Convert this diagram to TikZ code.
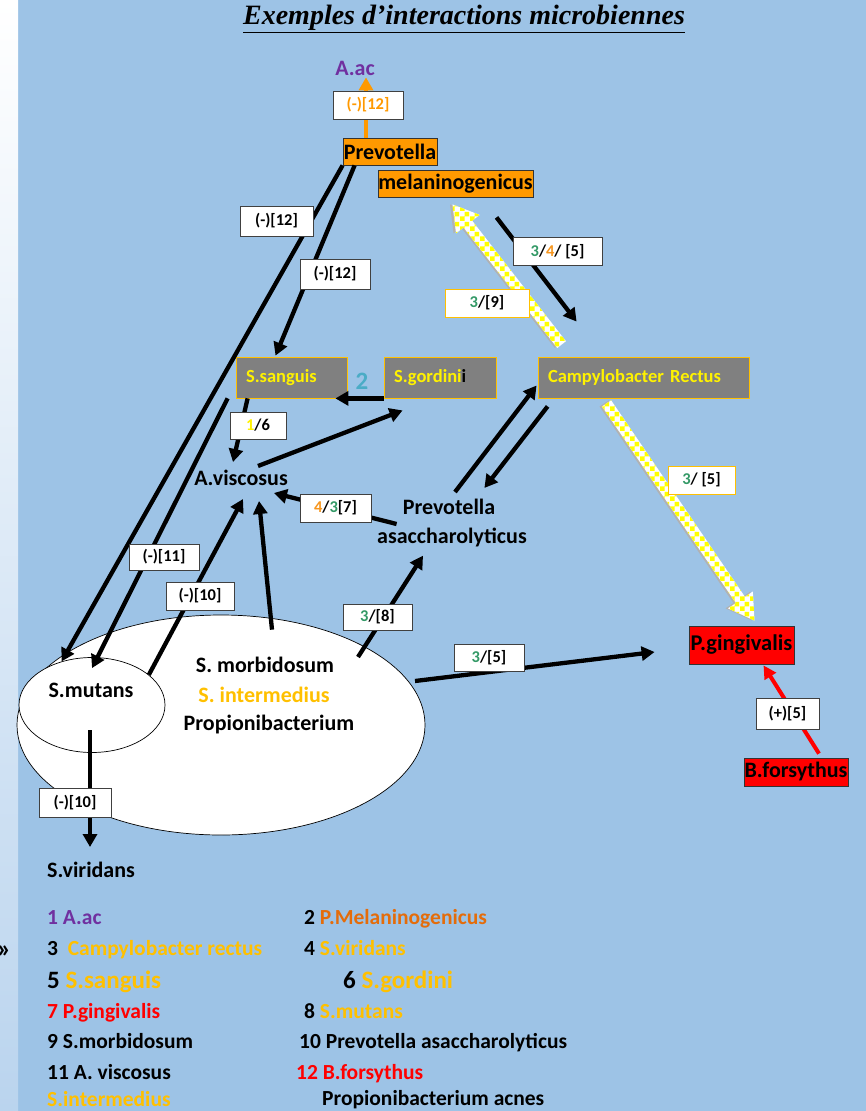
\documentclass[tikz,border=0pt]{standalone}
\usepackage{fontspec}
\setmainfont{Carlito}
\newfontfamily\titlefont{Liberation Serif}
\usetikzlibrary{arrows.meta,calc,shapes.geometric,patterns}

\definecolor{bgblue}{RGB}{157,195,230}
\definecolor{stripblue}{RGB}{186,212,238}
\definecolor{boxorange}{RGB}{255,153,0}
\definecolor{boxgray}{RGB}{128,128,128}
\definecolor{goldline}{RGB}{255,192,0}
\definecolor{numgreen}{RGB}{51,153,102}
\definecolor{numorange}{RGB}{247,150,30}
\definecolor{tealtwo}{RGB}{75,172,198}
\definecolor{aacpurple}{RGB}{112,48,160}
\definecolor{melorange}{RGB}{228,108,10}

% yellow / white checker for the fat arrows
\pgfdeclarepatternformonly{chkboard}{\pgfpointorigin}{\pgfqpoint{10pt}{10pt}}{\pgfqpoint{10pt}{10pt}}{%
  \pgfpathrectangle{\pgfpointorigin}{\pgfqpoint{5pt}{5pt}}%
  \pgfpathrectangle{\pgfqpoint{5pt}{5pt}}{\pgfqpoint{5pt}{5pt}}%
  \pgfusepath{fill}}

\newcommand{\chkarrow}[2]{%
  \coordinate (chk-h) at ($(#2)!25pt!(#1)$);
  \path[chkfill] ($(#1)!5.5pt!90:(#2)$) -- ($(chk-h)!5.5pt!90:(#2)$) -- ($(chk-h)!15pt!90:(#2)$) -- (#2)
    -- ($(chk-h)!15pt!-90:(#2)$) -- ($(chk-h)!5.5pt!-90:(#2)$) -- ($(#1)!5.5pt!-90:(#2)$) -- cycle;
}

\begin{document}
\begin{tikzpicture}[x=1pt,y=-1pt,
          every node/.style={font=\bfseries\fontsize{22}{25}\selectfont, inner sep=1pt},
          orgbox/.style={draw=black!80, fill=boxorange, line width=.8pt, minimum height=27pt, inner sep=0pt},
          graybox/.style={draw=goldline, fill=boxgray, line width=.8pt, text=yellow, minimum height=41pt,
                          align=left, inner xsep=10pt, inner ysep=0pt, font=\bfseries\fontsize{18.5}{21}\selectfont},
          redbox/.style={draw=black!80, fill=red, line width=.8pt, inner sep=0pt},
          lab/.style={draw=black!75, fill=white, line width=.8pt, minimum height=28pt, inner sep=0pt,
                      font=\bfseries\fontsize{16.5}{19}\selectfont},
          ylab/.style={lab, draw=goldline},
          blob/.style={draw, ellipse, fill=white, line width=.7pt, inner sep=0pt},
          leg/.style={anchor=base west, inner sep=0pt, font=\bfseries\fontsize{21.5}{24}\selectfont},
          legbig/.style={leg, font=\bfseries\fontsize{25}{28}\selectfont},
          arr/.style={line width=4.3pt, -{Triangle[width=14pt,length=13pt]}},
          orgarr/.style={boxorange, line width=4pt, -{Triangle[width=14pt,length=13pt]}},
          redarr/.style={red, line width=4pt, -{Triangle[width=13pt,length=13pt]}},
          chkfill/.style={fill=white, preaction={fill=black!30, transform canvas={shift={(-2.5pt,0pt)}}},
                          postaction={pattern=chkboard, pattern color=yellow}}]

  \useasboundingbox (0,0) rectangle (866,1111);
  \fill[bgblue] (18,0) rectangle (866,1111);
  \shade[top color=white, bottom color=stripblue] (0,0) rectangle (18,1111);

  \node[font=\titlefont\bfseries\itshape\fontsize{28}{31}\selectfont] (title) at (464,19)
    {\underline{Exemples d’interactions microbiennes}};

  % species
  \node[text=aacpurple] (aac) at (355,68) {A.ac};
  \node[orgbox, minimum width=94pt] (prevm1) at (390,151.5) {Prevotella};
  \node[orgbox, minimum width=155pt] (prevm2) at (455.5,183.5) {melaninogenicus};
  \node[graybox, text width=91pt] (sang) at (291.5,377.5) {S.sanguis};
  \node[graybox, text width=92pt] (gord) at (440,377.5) {S.gordini\textcolor{black}{i}};
  \node[graybox, text width=191pt] (campy) at (643.5,377.5) {Campylobacter Rectus};
  \node[text=tealtwo, font=\bfseries\fontsize{25}{27}\selectfont] (two) at (362,381) {2};
  \node (avisc) at (241,478) {A.viscosus};
  \node (pa1) at (449,507) {Prevotella};
  \node (pa2) at (452,537) {asaccharolyticus};
  \node[redbox, minimum width=105pt, minimum height=38pt, font=\bfseries\fontsize{22.5}{25}\selectfont] (pging) at (741.5,645) {P.gingivalis};
  \node[redbox, minimum width=104pt, minimum height=28pt] (bfors) at (796,772) {B.forsythus};

  \node[blob, minimum width=408pt, minimum height=220pt] (bigell) at (221,725) {};
  \node[blob, minimum width=146pt, minimum height=95pt] (smell) at (92,705) {};
  \node (smut) at (91,690) {S.mutans};
  \node (morb) at (265,665) {S. morbidosum};
  \node[text=goldline] (inter) at (264,695) {S. intermedius};
  \node (propi) at (269,725) {Propionibacterium};
  \node (svir) at (91,870) {S.viridans};

  % fat checkered arrows
  \coordinate (c1s) at ($(campy.south west)+(69,5)$);
  \coordinate (c1e) at ($(pging.north)+(13,-5)$);
  \coordinate (c2s) at ($(campy.north west)+(24,-12)$);
  \coordinate (c2e) at ($(prevm2.south)+(-3,7)$);
  \chkarrow{c1s}{c1e}
  \chkarrow{c2s}{c2e}

  % connectors
  \draw[orgarr] ($(prevm1.north)+(-24,0)$) -- ($(aac.south)+(11,1)$);
  \draw[arr] (prevm1.south west) -- (smell.125);
  \draw[arr] ($(prevm1.south west)+(12,0)$) -- ($(sang.north)+(-16,-1)$);
  \draw[arr] ($(sang.south west)+(-8,0)$) -- ($(smell.north)+(0,11)$);
  \draw[arr] (smell.28) -- ($(avisc.south)+(2,12)$);
  \draw[arr] ($(bigell.north)+(51,15)$) -- ($(avisc.south)+(18,14)$);
  \draw[arr] ($(sang.south west)+(12,0)$) -- ($(avisc.north)+(-8,-7)$);
  \draw[arr] (gord.south west) -- ($(sang.south east)+(-12,0)$);
  \draw[arr] ($(avisc.north)+(17,-3)$) -- ($(gord.south west)+(19,12)$);
  \draw[arr] ($(pa1.south west)+(-5,8)$) -- ($(avisc.east)+(-15,15)$);
  \draw[arr] ($(pa1.north)+(6,-6)$) -- ($(campy.west)+(-1,8)$);
  \draw[arr] ($(campy.south west)+(10,8)$) -- ($(pa1.north east)+(-12,-10)$);
  \draw[arr] ($(prevm2.south)+(41,20)$) -- ($(campy.north west)+(39,-35)$);
  \draw[arr] ($(bigell.center)+(137,-68)$) -- ($(pa2.south)+(-29,8)$);
  \draw[arr] ($(bigell.center)+(194,-44)$) -- ($(pging.west)+(-34,7)$);
  \draw[arr] ($(smell.center)+(-2,25)$) -- ($(svir.north)+(-1,-14)$);
  \draw[redarr] ($(bfors.north)+(23,-4)$) -- ($(pging.south)+(22,1)$);

  % labels
  \node[lab, minimum width=70pt, text=boxorange] (l1) at (368,105) {(-)[12]};
  \node[lab, minimum width=73pt, minimum height=30pt] (l2) at (276.5,221) {(-)[12]};
  \node[lab, minimum width=70pt, minimum height=30pt] (l3) at (335,274) {(-)[12]};
  \node[lab, minimum width=89pt] (l4) at (557.5,251.5) {\textcolor{numgreen}{3}/\textcolor{numorange}{4}/ [5]};
  \node[ylab, minimum width=84pt] (l5) at (487,303) {\textcolor{numgreen}{3}/[9]};
  \node[lab, minimum width=56pt, minimum height=27pt] (l6) at (258,425.5) {\textcolor{yellow}{1}/6};
  \node[lab, minimum width=71pt] (l7) at (335.5,508) {\textcolor{numorange}{4}/\textcolor{numgreen}{3}[7]};
  \node[ylab, minimum width=67pt] (l8) at (701.5,480) {\textcolor{numgreen}{3}/ [5]};
  \node[lab, minimum width=70pt, minimum height=26pt] (l9) at (164,557) {(-)[11]};
  \node[lab, minimum width=68pt] (l10) at (200,596) {(-)[10]};
  \node[lab, minimum width=69pt, minimum height=26pt] (l11) at (377.5,617) {\textcolor{numgreen}{3}/[8]};
  \node[lab, minimum width=70pt, minimum height=27pt] (l12) at (489,657.5) {\textcolor{numgreen}{3}/[5]};
  \node[lab, minimum width=63pt, minimum height=31pt] (l13) at (787.5,713.5) {(+)[5]};
  \node[lab, minimum width=72pt, minimum height=29pt] (l14) at (75,802.5) {(-)[10]};

  % key
  \node[leg, font=\bfseries\fontsize{26}{28}\selectfont] (mark) at (-3,957) {»};
  \node[leg, text=aacpurple] (k1) at (47,924) {1 A.ac};
  \node[leg] (k2) at (304,924) {2 \textcolor{melorange}{P.Melaninogenicus}};
  \node[leg] (k3) at (47,955) {3 \ \textcolor{goldline}{Campylobacter rectus}};
  \node[leg] (k4) at (304,955) {4 \textcolor{goldline}{S.viridans}};
  \node[legbig] (k5) at (47,988) {5 \textcolor{goldline}{S.sanguis}};
  \node[legbig] (k6) at (343,988) {6 \textcolor{goldline}{S.gordini}};
  \node[leg, text=red] (k7) at (47,1018) {7 P.gingivalis};
  \node[leg] (k8) at (304,1018) {8 \textcolor{goldline}{S.mutans}};
  \node[leg] (k9) at (47,1048) {9 S.morbidosum};
  \node[leg] (k10) at (299,1048) {10 Prevotella asaccharolyticus};
  \node[leg] (k11) at (47,1079) {11 A. viscosus};
  \node[leg, text=red] (k12) at (296,1079) {12 B.forsythus};
  \node[leg, text=goldline] (k13) at (47,1106) {S.intermedius};
  \node[leg] (k14) at (322,1105) {Propionibacterium acnes};
\end{tikzpicture}
\end{document}
